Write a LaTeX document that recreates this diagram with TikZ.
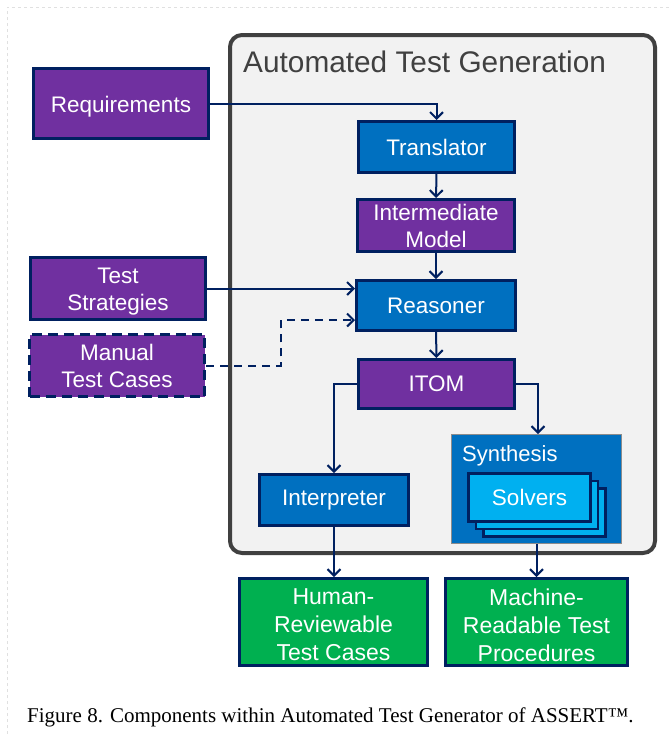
\documentclass[tikz,border=0pt]{standalone}
\usepackage{fontspec}
\setmainfont{Liberation Sans}
\newfontfamily\captionserif{Liberation Serif}
\usetikzlibrary{arrows.meta}

\definecolor{navy}{HTML}{002060}
\definecolor{boxblue}{HTML}{0070C0}
\definecolor{boxpurple}{HTML}{7030A0}
\definecolor{boxgreen}{HTML}{00B050}
\definecolor{solverblue}{HTML}{00B0F0}
\definecolor{panelgray}{HTML}{F2F2F2}
\definecolor{framegray}{HTML}{404040}

% lowers a centred text block without changing its size
\newcommand{\lowered}[2]{\raisebox{-3pt}[\height][\depth]{\parbox{#1}{\centering #2}}}

\tikzset{
  block/.style={draw=navy, line width=3pt, text=white, align=center,
    font=\fontsize{22.5}{27}\selectfont, inner sep=0pt},
  bluebox/.style={block, fill=boxblue},
  purplebox/.style={block, fill=boxpurple},
  greenbox/.style={block, fill=boxgreen, font=\fontsize{23}{28}\selectfont},
  solverbox/.style={block, fill=solverblue, line width=2.5pt,
    minimum width=122pt, minimum height=48pt},
  link/.style={draw=navy, line width=2pt,
    -{Straight Barb[length=6.5pt,width=13pt]}},
  dashedlink/.style={link, dash pattern=on 8pt off 6pt},
}

\begin{document}
\begin{tikzpicture}[x=1pt,y=-1pt]
\useasboundingbox (0,0) rectangle (670,734);
\fill[white] (0,0) rectangle (670,734);
\draw[black!12, dashed, line width=1pt] (7,734) -- (7,7) -- (670,7);

% main panel
\node[draw=framegray, fill=panelgray, line width=4pt, rounded corners=12pt,
  minimum width=425pt, minimum height=518pt, inner sep=0pt] (atg) at (442.5,294) {};
\node[anchor=base west, text=framegray, font=\fontsize{29.8}{32}\selectfont,
  inner sep=0pt] (title) at (243,72) {Automated Test Generation};

% inputs
\node[purplebox, minimum width=175pt, minimum height=70pt] (req) at (121,103.5) {\lowered{170pt}{Requirements}};
\node[purplebox, minimum width=175pt, minimum height=62pt] (ts) at (118,288.5) {\lowered{170pt}{Test\\Strategies}};
\node[purplebox, dash pattern=on 10pt off 6pt, line width=3.5pt,
  minimum width=175pt, minimum height=62pt] (mtc) at (117,365.5) {Manual\\Test Cases};

% pipeline
\node[bluebox, minimum width=156pt, minimum height=51pt] (trans) at (436.5,147) {Translator};
\node[purplebox, minimum width=157pt, minimum height=52pt] (im) at (436,225.5) {Intermediate\\Model};
\node[bluebox, minimum width=159pt, minimum height=50pt] (reas) at (436,305.5) {Reasoner};
\node[purplebox, minimum width=156pt, minimum height=49pt] (itom) at (436.5,384) {ITOM};
\node[bluebox, minimum width=149pt, minimum height=51pt] (interp) at (334,500) {Interpreter};

% synthesis with stacked solvers
\node[draw=black!45, fill=boxblue, line width=1pt, minimum width=170pt,
  minimum height=109pt, inner sep=0pt] (synth) at (536.5,489) {};
\node[anchor=base west, text=white, font=\fontsize{22}{26}\selectfont,
  inner sep=0pt] (synthlabel) at (462,461) {Synthesis};
\node[solverbox] (solv3) at (544.5,512.5) {};
\node[solverbox] (solv2) at (537,505) {};
\node[solverbox] (solvers) at (529.5,497.5) {Solvers};

% outputs
\node[greenbox, minimum width=188pt, minimum height=87pt] (human) at (333.5,622) {\lowered{185pt}{Human-\\Reviewable\\Test Cases}};
\node[greenbox, minimum width=182pt, minimum height=87pt] (machine) at (536.5,622) {\lowered{180pt}{Machine-\\Readable Test\\Procedures}};

% connectors
\draw[link] (req.east) -| (trans.north);
\draw[link] (trans) -- (im);
\draw[link] (im) -- (reas);
\draw[link] (ts.east) -- (ts.east -| reas.west);
\coordinate (mbend) at (281,320);
\draw[dashedlink] (mtc.east) -| (mbend) -- (mbend -| reas.west);
\draw[link] (reas) -- (itom);
\draw[link] (itom.west) -| (interp.north);
\draw[link] (itom.east) -| ([xshift=1.5pt]synth.north);
\draw[link] (interp.south) -- (interp.south |- human.north);
\draw[link] (synth.south) -- (machine.north);

% caption
\node[anchor=base west, inner sep=0pt, font=\captionserif\fontsize{21}{24}\selectfont]
  (caption) at (27,722) {Figure 8. Components within Automated Test Generator of ASSERT\texttrademark.};
\end{tikzpicture}
\end{document}
